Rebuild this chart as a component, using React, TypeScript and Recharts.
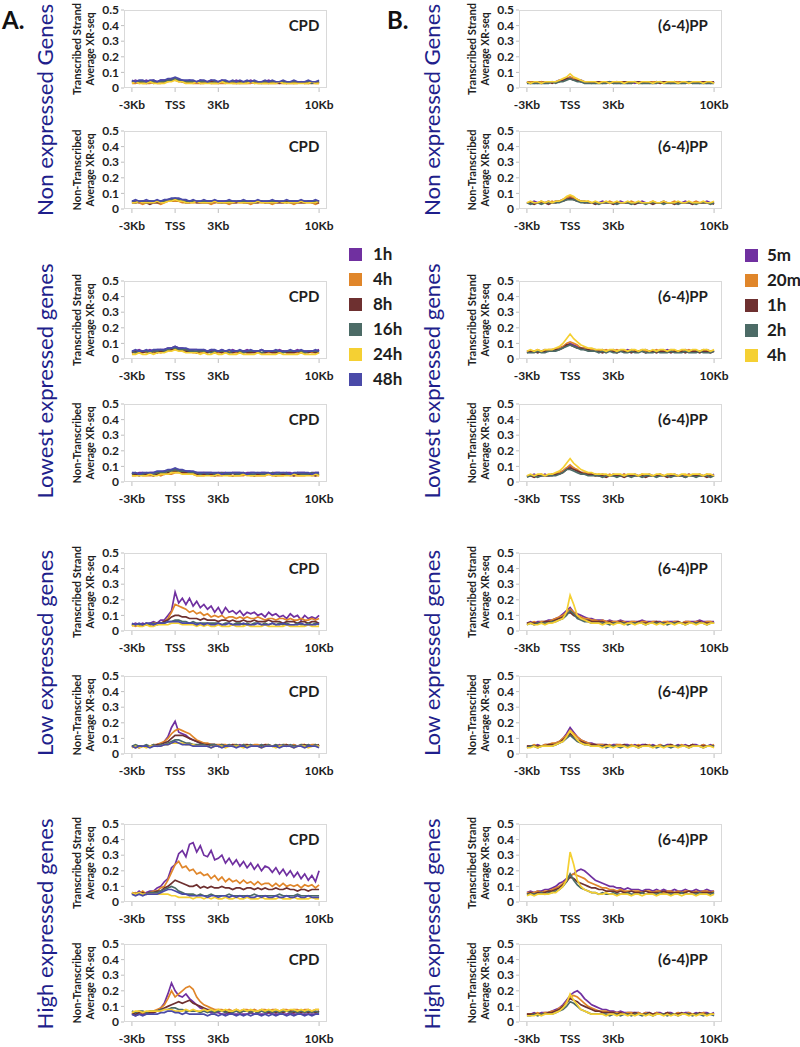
import React from "react"
import { LineChart, Line, XAxis, YAxis } from "recharts"

// positions along the gene (kb), TSS = 0
const KB = [
  -3, -2.75, -2.5, -2.25, -2, -1.75, -1.5, -1.25, -1, -0.75,
  -0.5, -0.25, 0, 0.25, 0.5, 0.75, 1, 1.25, 1.5, 1.75,
  2, 2.25, 2.5, 2.75, 3, 3.25, 3.5, 3.75, 4, 4.25,
  4.5, 4.75, 5, 5.25, 5.5, 5.75, 6, 6.25, 6.5, 6.75,
  7, 7.25, 7.5, 7.75, 8, 8.25, 8.5, 8.75, 9, 9.25,
  9.5, 9.75, 10,
]
const X_TICKS = [-3, 0, 3, 10]
const X_LABELS = ["-3Kb", "TSS", "3Kb", "10Kb"]
const X_LABELS_ALT = ["3Kb", "TSS", "3Kb", "10Kb"]
const Y_TICKS = [0, 0.1, 0.2, 0.3, 0.4, 0.5]

const CPD_TIMES = ["1h", "4h", "8h", "16h", "24h", "48h"]
const PP_TIMES = ["5m", "20m", "1h", "2h", "4h"]
const CPD_COLORS = ["#7030a0", "#e0862a", "#6e3030", "#4c6b66", "#f5d033", "#4a4aa8"]
const PP_COLORS = ["#7030a0", "#e0862a", "#6e3030", "#4c6b66", "#f5d033"]

const GROUPS = ["Non expressed Genes", "Lowest expressed genes", "Low expressed genes", "High expressed genes"]
const GROUP_LEN = [212, 235, 206, 211]

// Average XR-seq, in hundredths
const CPD_NON_TS = [
  [4,5,4,4,5,4,5,4,5,5, 5,6,6,5,5,4,5,4,4,5, 4,4,5,4,4,5,4,4,4,5, 4,4,4,5,4,4,4,4,5,4, 4,4,4,3,4,4,4,4,3,4, 4,4,4],
  [3,3,4,3,3,3,4,3,3,4, 4,5,5,4,4,3,4,3,3,3, 3,4,3,3,3,3,3,4,3,3, 3,3,3,3,4,3,3,3,3,3, 3,3,3,3,3,3,3,4,3,3, 3,3,3],
  [4,4,3,4,4,4,3,4,4,4, 5,5,5,5,4,4,4,4,4,3, 4,4,4,4,3,4,4,4,4,3, 4,4,4,4,3,4,4,4,3,4, 4,3,4,4,4,3,4,4,4,3, 4,4,3],
  [4,4,4,4,3,4,4,4,4,4, 5,5,6,5,4,4,4,4,4,4, 4,4,3,4,4,4,4,4,4,4, 3,4,4,4,4,4,3,4,4,4, 4,4,4,3,4,4,4,4,4,4, 3,4,4],
  [3,4,3,3,3,4,3,3,3,3, 4,4,5,4,4,3,3,3,4,3, 3,3,3,3,3,4,3,3,3,3, 3,3,3,4,3,3,3,3,3,3, 3,4,3,3,3,3,3,3,3,3, 4,3,3],
  [5,4,5,5,4,5,5,4,5,5, 6,6,7,6,5,5,5,5,4,5, 5,4,5,5,4,5,5,4,5,4, 5,4,5,4,5,4,4,5,4,5, 4,4,5,4,4,5,4,4,4,5, 4,4,5],
]
const CPD_NON_NTS = [
  [5,5,4,5,5,5,4,5,5,5, 6,6,6,6,5,5,5,5,5,4, 5,5,5,4,5,5,5,5,4,5, 5,5,4,5,5,5,5,4,5,5, 5,5,4,5,5,5,5,5,4,5, 5,5,5],
  [4,4,4,3,4,4,4,4,3,4, 5,5,5,5,4,4,4,4,4,4, 4,4,3,4,4,4,4,3,4,4, 4,4,4,3,4,4,4,4,4,3, 4,4,4,4,4,3,4,4,4,4, 4,3,4],
  [4,4,5,4,4,3,4,4,4,5, 5,5,6,5,5,4,4,5,4,4, 4,4,4,5,4,4,4,4,4,4, 5,4,4,4,4,4,5,4,4,4, 4,4,4,5,4,4,4,4,4,5, 4,4,4],
  [5,4,5,5,4,5,5,5,5,5, 6,6,7,6,5,5,5,5,5,5, 5,5,5,5,5,4,5,5,5,5, 5,5,5,5,4,5,5,5,5,5, 5,5,5,4,5,5,5,5,5,5, 5,5,5],
  [4,4,5,4,4,4,4,5,4,4, 5,5,6,5,5,4,4,4,5,4, 4,4,4,5,4,4,4,4,4,5, 4,4,4,4,4,5,4,4,4,4, 4,5,4,4,4,4,4,5,4,4, 4,4,5],
  [5,6,5,5,6,5,5,6,5,6, 6,7,7,7,6,6,5,6,5,5, 6,5,5,6,5,5,5,6,5,5, 5,6,5,5,5,6,5,5,5,6, 5,5,5,6,5,5,5,6,5,5, 5,6,5],
]
const CPD_LOWEST_TS = [
  [5,5,6,5,5,6,5,6,6,6, 7,7,8,7,7,6,6,6,6,5, 6,5,6,5,5,6,5,5,6,5, 5,5,6,5,5,5,6,5,5,5, 5,6,5,5,5,5,6,5,5,5, 5,5,6],
  [4,4,4,5,4,4,4,5,4,5, 5,6,6,6,5,5,5,4,4,4, 4,5,4,4,4,4,4,5,4,4, 4,4,4,4,5,4,4,4,4,4, 4,4,5,4,4,4,4,4,4,5, 4,4,4],
  [4,5,4,4,5,4,5,4,5,5, 5,6,7,6,5,5,5,5,4,5, 5,4,5,4,5,4,5,4,4,5, 4,5,4,4,4,5,4,4,5,4, 4,4,5,4,4,4,5,4,4,4, 5,4,4],
  [5,4,5,5,5,4,5,5,6,5, 6,7,7,6,6,6,5,5,5,5, 5,5,4,5,5,5,5,4,5,5, 5,4,5,5,5,5,4,5,5,5, 5,5,4,5,5,5,5,5,4,5, 5,5,5],
  [3,3,4,3,3,4,3,4,4,4, 5,5,6,5,5,4,4,4,4,3, 4,3,3,4,3,3,4,3,3,3, 4,3,3,3,3,4,3,3,3,3, 3,4,3,3,3,3,3,4,3,3, 3,3,4],
  [5,6,5,5,6,5,6,6,6,6, 7,7,8,7,7,7,6,6,6,6, 6,5,6,6,5,6,5,6,5,5, 6,5,5,6,5,5,6,5,5,5, 6,5,5,5,6,5,5,6,5,5, 5,6,5],
]
const CPD_LOWEST_NTS = [
  [6,5,6,6,5,6,6,6,6,7, 7,8,8,8,7,7,7,6,6,6, 6,6,6,5,6,6,6,5,6,6, 6,5,6,6,6,5,6,6,5,6, 6,6,5,6,6,5,6,6,6,5, 6,6,6],
  [4,4,5,4,4,4,4,5,4,5, 5,5,6,6,6,5,5,5,4,4, 4,5,4,4,4,4,5,4,4,4, 4,4,5,4,4,4,4,4,5,4, 4,4,4,5,4,4,4,4,4,5, 4,4,4],
  [5,5,4,5,5,5,4,5,6,5, 6,7,7,7,6,6,6,6,5,5, 5,5,5,4,5,5,5,5,4,5, 5,5,5,5,4,5,5,5,5,5, 4,5,5,5,5,4,5,5,5,5, 5,4,5],
  [5,6,5,5,6,5,5,6,6,6, 7,7,8,7,7,7,6,6,6,5, 6,5,6,5,5,6,5,5,6,5, 5,6,5,5,5,6,5,5,5,6, 5,5,6,5,5,5,6,5,5,5, 6,5,5],
  [4,4,4,4,4,5,4,4,5,5, 5,6,6,6,5,5,5,5,4,4, 4,4,4,4,5,4,4,4,4,4, 4,5,4,4,4,4,4,4,5,4, 4,4,4,4,4,5,4,4,4,4, 4,5,4],
  [6,6,5,6,6,6,6,7,7,7, 8,8,9,8,8,7,7,7,6,6, 6,6,6,6,6,5,6,6,6,6, 6,6,5,6,6,6,6,6,6,5, 6,6,6,6,5,6,6,6,6,6, 5,6,6],
]
const CPD_LOW_TS = [
  [4,5,4,5,4,5,6,5,7,7, 10,13,25,18,21,17,21,16,19,15, 17,14,16,12,15,11,15,12,13,11, 13,10,12,11,12,10,11,9,12,10, 11,9,10,8,11,9,10,7,10,8, 9,8,10],
  [4,3,4,4,4,4,5,5,5,6, 8,12,17,16,15,14,12,13,11,12, 10,11,9,10,9,10,8,9,9,8, 9,8,9,8,8,9,8,7,8,8, 7,8,8,7,8,7,7,8,7,7, 8,7,8],
  [4,4,4,4,5,4,4,5,5,6, 7,9,10,10,9,9,8,8,8,7, 8,7,7,7,6,7,7,6,7,6, 6,7,6,6,7,6,6,6,7,6, 6,6,5,6,6,6,5,6,6,5, 6,6,5],
  [4,4,4,4,4,4,5,4,5,5, 6,6,7,7,6,6,5,6,5,5, 5,5,5,5,5,4,5,5,4,5, 5,4,5,4,5,5,4,5,4,5, 4,5,4,5,4,4,5,4,4,5, 4,5,4],
  [3,4,3,3,4,3,3,4,4,4, 4,5,5,5,4,4,4,4,3,4, 3,4,3,3,4,3,3,3,4,3, 3,3,4,3,3,3,3,4,3,3, 3,3,3,4,3,3,3,3,3,4, 3,3,3],
  [5,4,5,4,5,5,4,5,5,5, 6,6,6,6,5,5,5,5,4,5, 4,5,4,4,5,4,4,5,4,4, 4,5,4,4,4,5,4,4,4,5, 4,4,5,4,4,4,4,5,4,4, 4,4,5],
]
const CPD_LOW_NTS = [
  [5,5,4,5,5,5,5,6,6,8, 11,17,21,14,13,12,10,9,8,7, 7,6,6,6,5,6,5,6,5,5, 6,5,5,6,5,5,6,5,5,5, 5,6,5,5,5,6,5,5,5,6, 5,5,5],
  [5,4,5,5,5,5,6,6,7,8, 10,13,15,16,15,14,13,11,9,8, 7,7,6,6,6,6,6,5,6,6, 5,6,6,5,6,6,5,6,6,5, 6,5,6,6,5,6,5,6,6,5, 6,6,5],
  [5,5,5,5,5,5,5,6,6,7, 8,10,12,12,12,11,10,9,8,7, 6,6,6,6,5,6,5,5,6,5, 5,5,6,5,5,5,5,6,5,5, 5,5,5,6,5,5,5,5,6,5, 5,5,6],
  [5,6,5,5,6,5,6,5,6,6, 7,8,9,9,8,7,7,6,6,6, 6,5,6,6,5,6,5,6,5,6, 5,6,5,6,5,5,6,5,6,5, 6,5,6,5,6,5,5,6,5,6, 5,6,5],
  [4,5,4,5,4,5,5,5,5,6, 6,7,7,7,7,6,6,6,5,5, 5,5,4,5,5,5,4,5,5,5, 5,4,5,5,5,5,4,5,5,5, 4,5,5,5,5,4,5,5,5,4, 5,5,5],
  [5,4,5,5,5,4,5,5,5,6, 6,7,8,7,6,6,6,5,5,5, 5,5,4,5,5,4,5,5,5,4, 5,5,4,5,5,5,4,5,5,5, 5,4,5,5,5,4,5,5,4,5, 5,5,4],
]
const CPD_HIGH_TS = [
  [6,5,7,5,6,7,7,9,10,13, 15,22,24,31,33,29,37,38,32,36, 30,29,33,27,28,30,25,28,24,27, 23,26,22,25,21,24,20,23,22,19, 22,18,21,17,20,16,19,15,18,14, 17,13,20],
  [5,6,5,7,5,6,7,7,9,10, 14,19,24,26,22,23,20,21,18,19, 17,18,15,17,14,16,13,15,13,14, 12,14,12,13,11,13,11,12,12,10, 12,10,12,10,11,10,11,9,11,10, 11,9,11],
  [6,5,5,6,5,6,6,7,7,9, 10,12,14,13,12,11,10,10,11,9, 10,9,10,9,9,10,9,9,8,9, 9,8,9,9,8,9,8,9,8,8, 9,8,8,9,8,8,7,8,8,7, 8,8,8],
  [5,5,6,5,5,6,6,6,7,8, 9,10,9,7,6,5,5,5,4,5, 4,4,5,4,4,4,4,5,4,4, 4,4,4,4,5,4,4,4,4,4, 4,5,4,4,4,4,5,4,4,4, 4,4,4],
  [6,5,6,5,5,5,5,5,5,5, 5,4,4,3,3,3,3,2,3,3, 2,3,2,3,2,2,3,2,2,3, 2,2,3,2,2,2,3,2,2,2, 2,3,2,2,2,3,2,2,2,2, 3,2,2],
  [5,4,5,4,5,5,5,5,6,7, 8,8,7,6,5,5,4,4,4,4, 4,3,4,4,3,4,4,3,4,3, 4,3,4,3,3,4,3,4,3,3, 4,3,3,4,3,3,4,3,3,4, 3,3,3],
]
const CPD_HIGH_NTS = [
  [5,4,5,5,5,6,6,7,9,12, 18,25,20,17,16,18,15,13,11,9, 8,7,6,6,6,5,5,6,5,5, 5,5,5,6,5,5,5,5,6,5, 5,5,5,5,6,5,5,5,5,5, 5,5,5],
  [5,6,6,6,6,6,7,8,9,11, 15,20,16,18,20,22,23,21,16,13, 11,10,9,8,8,8,7,8,7,8, 7,8,8,7,8,7,8,8,7,8, 8,7,8,8,7,8,8,7,8,8, 7,8,8],
  [6,5,6,6,6,6,6,7,8,9, 10,11,12,13,12,13,14,12,11,10, 9,8,8,7,7,7,7,6,7,7, 6,7,7,6,7,6,7,7,6,7, 6,7,6,7,7,6,7,6,7,6, 7,6,7],
  [7,6,7,7,6,7,7,7,8,8, 8,9,9,8,8,7,7,7,7,6, 7,6,7,6,7,7,6,7,6,7, 6,7,7,6,7,6,7,6,7,6, 7,6,7,7,6,7,6,7,6,7, 6,7,6],
  [6,7,7,6,7,7,7,7,7,8, 8,8,7,7,7,8,7,8,7,7, 8,7,8,7,8,7,8,7,7,8, 7,8,7,8,7,7,8,7,8,7, 8,7,8,7,8,8,7,8,7,8, 7,8,8],
  [5,4,5,4,5,5,5,5,6,6, 7,7,6,6,5,6,5,5,5,5, 5,4,5,5,4,5,4,5,5,4, 5,4,5,4,5,5,4,5,4,5, 4,5,5,4,5,4,5,5,4,5, 4,5,5],
]

const PP_NON_TS = [
  [4,4,3,4,4,4,4,4,4,5, 5,6,7,6,5,5,4,4,4,4, 4,4,4,3,4,4,4,4,4,4, 3,4,4,4,4,4,4,3,4,4, 4,4,4,4,3,4,4,4,4,4, 3,4,4],
  [3,4,4,3,4,3,4,4,4,4, 5,6,7,6,5,4,4,4,4,3, 4,4,3,4,4,3,4,4,3,4, 4,3,4,4,3,4,4,3,4,4, 3,4,4,3,4,4,3,4,4,3, 4,4,3],
  [4,3,4,4,3,4,4,3,4,4, 5,6,6,5,5,4,4,4,3,4, 4,3,4,4,3,4,3,4,4,3, 4,4,3,4,4,3,4,3,4,4, 3,4,3,4,4,3,4,4,3,4, 4,3,4],
  [3,3,3,3,3,3,3,4,3,4, 4,5,6,5,4,4,3,3,3,3, 3,3,3,4,3,3,3,3,3,3, 4,3,3,3,3,3,3,4,3,3, 3,3,3,3,3,4,3,3,3,3, 3,3,3],
  [4,3,4,4,3,4,4,4,4,5, 6,7,9,7,6,5,4,4,4,4, 3,4,4,3,4,4,4,3,4,4, 4,3,4,4,4,3,4,4,3,4, 4,4,3,4,4,3,4,4,4,3, 4,4,3],
]
const PP_NON_NTS = [
  [4,4,5,4,4,4,5,4,5,5, 6,7,8,7,6,5,5,4,4,4, 4,5,4,4,4,4,5,4,4,4, 4,4,5,4,4,4,4,4,5,4, 4,4,4,4,5,4,4,4,4,4, 5,4,4],
  [4,4,4,4,5,4,4,5,4,5, 6,7,8,7,6,5,4,5,4,4, 4,4,4,5,4,4,4,4,4,5, 4,4,4,4,4,5,4,4,4,4, 4,5,4,4,4,4,4,5,4,4, 4,4,4],
  [4,4,3,4,4,4,3,4,4,5, 5,6,7,6,5,5,4,4,4,3, 4,4,4,4,3,4,4,4,4,4, 3,4,4,4,4,3,4,4,4,4, 4,3,4,4,4,4,3,4,4,4, 4,4,3],
  [4,3,4,4,3,4,4,4,4,4, 5,6,6,6,5,4,4,4,4,4, 3,4,4,4,4,3,4,4,4,3, 4,4,4,3,4,4,4,4,3,4, 4,4,3,4,4,4,4,3,4,4, 4,3,4],
  [4,5,4,4,5,4,5,4,5,5, 6,8,9,8,6,5,5,5,4,5, 4,4,5,4,4,5,4,4,5,4, 4,5,4,4,4,5,4,4,5,4, 4,4,5,4,4,5,4,4,4,5, 4,4,5],
]
const PP_LOWEST_TS = [
  [5,5,5,5,5,6,5,6,6,7, 8,9,10,9,8,7,7,6,6,6, 5,6,5,5,6,5,5,5,6,5, 5,5,5,6,5,5,5,5,5,6, 5,5,5,5,6,5,5,5,5,5, 6,5,5],
  [5,5,5,6,5,5,6,6,6,7, 8,10,11,10,9,7,7,6,6,5, 6,5,6,5,5,6,5,5,5,6, 5,5,6,5,5,5,6,5,5,5, 6,5,5,5,5,6,5,5,5,6, 5,5,5],
  [4,5,5,4,5,5,5,5,6,6, 7,9,9,8,7,7,6,6,5,5, 5,4,5,5,5,4,5,5,5,4, 5,5,5,4,5,5,4,5,5,5, 4,5,5,5,4,5,5,5,4,5, 5,4,5],
  [4,4,4,5,4,4,5,5,5,6, 7,8,9,8,7,6,6,5,5,5, 4,5,4,5,4,4,5,4,4,5, 4,4,5,4,4,4,5,4,4,4, 5,4,4,4,5,4,4,4,5,4, 4,4,5],
  [5,6,5,6,5,6,6,6,7,8, 10,13,16,13,11,9,8,7,7,6, 6,6,5,6,6,5,6,6,5,6, 6,5,6,6,5,6,5,6,6,5, 6,6,5,6,6,5,6,6,5,6, 6,5,6],
]
const PP_LOWEST_NTS = [
  [4,4,5,4,4,5,4,5,5,6, 7,9,10,9,7,6,6,5,5,5, 4,5,4,4,5,4,4,5,4,4, 5,4,4,4,5,4,4,5,4,4, 4,5,4,4,4,5,4,4,5,4, 4,4,5],
  [4,4,4,4,5,4,4,5,5,6, 7,9,11,9,8,6,6,5,5,4, 5,4,4,5,4,4,4,5,4,4, 4,4,5,4,4,4,4,5,4,4, 5,4,4,4,4,5,4,4,4,4, 5,4,4],
  [4,4,3,4,4,4,4,4,5,5, 6,8,9,8,7,6,5,5,5,4, 4,4,3,4,4,4,4,3,4,4, 4,4,4,3,4,4,4,4,4,3, 4,4,4,4,3,4,4,4,4,4, 3,4,4],
  [3,4,4,3,4,4,4,4,4,5, 6,8,8,7,6,5,5,4,4,4, 4,3,4,4,4,3,4,4,4,3, 4,4,3,4,4,4,3,4,4,4, 3,4,4,4,3,4,4,3,4,4, 4,3,4],
  [4,5,4,5,5,4,5,5,6,7, 9,12,15,12,10,8,7,6,6,5, 5,5,5,4,5,5,5,4,5,5, 5,4,5,5,5,4,5,5,4,5, 5,5,4,5,5,4,5,5,5,4, 5,5,4],
]
const PP_LOW_TS = [
  [5,6,5,6,6,6,7,7,8,9, 11,13,15,12,11,10,9,8,8,7, 7,7,6,7,6,6,7,6,6,6, 6,6,7,6,6,6,6,6,5,6, 6,6,6,5,6,6,6,6,7,6, 6,6,6],
  [5,5,6,5,6,6,6,7,8,9, 10,12,14,12,10,9,8,8,7,7, 6,7,6,6,6,6,6,6,5,6, 6,5,6,6,5,6,6,5,6,6, 5,6,6,5,6,6,5,6,6,5, 6,6,5],
  [5,5,5,5,5,6,6,6,7,8, 9,11,12,10,9,8,7,7,6,6, 6,6,5,6,5,5,6,5,5,5, 5,6,5,5,5,5,6,5,5,5, 5,5,6,5,5,5,5,5,6,5, 5,5,5],
  [4,5,4,5,5,5,5,6,6,7, 8,10,13,11,8,7,6,6,5,5, 5,5,5,4,5,5,5,5,4,5, 5,5,5,4,5,5,5,5,5,4, 5,5,5,5,4,5,5,5,5,5, 4,5,5],
  [4,5,4,4,5,4,5,5,6,7, 8,12,23,17,10,8,7,6,5,5, 5,4,5,5,4,5,5,4,5,5, 4,5,5,4,5,5,4,5,4,5, 5,4,5,5,4,5,5,4,5,5, 4,5,5],
]
const PP_LOW_NTS = [
  [5,5,5,6,5,6,6,6,7,8, 10,13,17,14,11,9,8,7,7,6, 6,6,6,5,6,6,5,6,6,5, 6,5,6,6,5,6,5,6,5,6, 6,5,6,5,6,5,6,6,5,6, 5,6,5],
  [5,5,6,5,5,6,6,7,7,8, 10,12,15,13,11,9,8,7,6,6, 6,6,5,6,5,6,6,5,5,6, 5,6,5,5,6,5,5,6,5,5, 6,5,5,6,5,5,6,5,5,6, 5,5,6],
  [5,5,5,5,5,5,6,6,6,7, 9,11,13,11,9,8,7,6,6,6, 5,5,6,5,5,5,5,6,5,5, 5,5,5,6,5,5,5,5,5,5, 6,5,5,5,5,5,6,5,5,5, 5,5,5],
  [4,5,5,4,5,5,5,5,6,7, 8,10,12,10,8,7,6,6,5,5, 5,5,4,5,5,5,4,5,5,5, 5,4,5,5,5,5,4,5,5,5, 4,5,5,5,5,4,5,5,5,4, 5,5,5],
  [4,4,5,4,5,5,5,5,6,7, 8,11,15,12,9,7,6,6,5,5, 5,4,5,5,4,5,5,5,4,5, 5,4,5,5,5,4,5,5,4,5, 5,5,4,5,5,4,5,5,5,4, 5,5,4],
]
const PP_HIGH_TS = [
  [6,7,6,7,7,8,8,9,10,12, 13,15,17,18,20,21,20,18,16,14, 13,12,11,10,10,9,9,8,9,8, 8,8,7,8,8,7,8,7,8,7, 7,8,7,7,8,7,7,8,7,7, 8,7,7],
  [6,6,6,7,6,7,7,8,9,10, 12,14,17,18,17,16,15,13,12,11, 10,9,9,8,8,7,8,7,7,7, 7,7,6,7,7,6,7,7,6,7, 7,6,7,6,7,7,6,7,6,7, 7,6,7],
  [5,6,5,6,6,6,7,7,8,9, 11,13,16,15,13,12,11,10,9,9, 8,8,7,7,7,6,7,6,6,7, 6,6,6,7,6,6,6,6,7,6, 6,6,6,6,6,7,6,6,6,6, 6,6,6],
  [5,5,5,5,6,5,6,6,7,8, 10,13,18,14,11,9,8,7,6,6, 5,6,5,5,6,5,5,5,6,5, 5,5,6,5,5,5,5,6,5,5, 5,5,5,6,5,5,5,5,6,5, 5,5,6],
  [4,5,4,5,5,5,5,6,6,8, 10,14,32,24,14,10,8,7,6,6, 5,5,6,5,5,4,5,5,5,4, 5,5,4,5,5,5,4,5,5,5, 4,5,5,4,5,5,5,4,5,5, 5,4,5],
]
const PP_HIGH_NTS = [
  [5,5,6,5,6,6,6,7,8,9, 11,14,17,19,20,18,15,13,11,10, 9,8,8,7,7,6,7,6,6,6, 6,6,5,6,6,5,6,6,5,6, 6,5,6,5,6,6,5,6,5,6, 6,5,6],
  [5,5,5,6,5,6,6,7,7,9, 10,13,16,17,16,14,12,10,9,8, 7,7,7,6,6,6,6,5,6,6, 5,6,5,6,5,5,6,5,5,6, 5,5,6,5,5,6,5,5,5,6, 5,5,5],
  [5,5,5,5,5,5,6,6,7,8, 10,12,15,14,13,11,10,9,8,7, 7,6,6,6,6,5,6,5,5,5, 6,5,5,5,6,5,5,5,5,6, 5,5,5,6,5,5,5,5,6,5, 5,5,5],
  [4,4,5,4,5,5,5,5,6,7, 8,10,13,12,10,8,7,6,5,5, 5,5,5,4,5,5,4,5,5,4, 5,5,4,5,5,4,5,5,5,4, 5,5,4,5,5,5,4,5,5,4, 5,5,4],
  [4,4,4,5,4,5,5,5,6,7, 9,12,18,14,11,8,7,6,5,5, 5,5,4,5,5,4,5,5,4,5, 4,5,5,4,5,4,5,5,4,5, 4,5,4,5,5,4,5,4,5,5, 4,5,5],
]

const FONT = "Lato, 'Open Sans', sans-serif"
const INK = "#1e1e1e"
const NAVY = "#1f1f8c"
const FRAME = "#d9d9d9"

const COL_X = [124, 519]
const TS_TOPS = [10, 281, 553, 824]
const NTS_TOPS = [131, 404, 676, 944]
const BOX_W = 203
const BOX_H = 78
const PAD_TOP = 12

const PANELS = [
  { col: 0, top: TS_TOPS[0], series: CPD_NON_TS, ts: true },
  { col: 0, top: NTS_TOPS[0], series: CPD_NON_NTS, ts: false },
  { col: 0, top: TS_TOPS[1], series: CPD_LOWEST_TS, ts: true },
  { col: 0, top: NTS_TOPS[1], series: CPD_LOWEST_NTS, ts: false },
  { col: 0, top: TS_TOPS[2], series: CPD_LOW_TS, ts: true },
  { col: 0, top: NTS_TOPS[2], series: CPD_LOW_NTS, ts: false },
  { col: 0, top: TS_TOPS[3], series: CPD_HIGH_TS, ts: true },
  { col: 0, top: NTS_TOPS[3], series: CPD_HIGH_NTS, ts: false },
  { col: 1, top: TS_TOPS[0], series: PP_NON_TS, ts: true },
  { col: 1, top: NTS_TOPS[0], series: PP_NON_NTS, ts: false },
  { col: 1, top: TS_TOPS[1], series: PP_LOWEST_TS, ts: true },
  { col: 1, top: NTS_TOPS[1], series: PP_LOWEST_NTS, ts: false },
  { col: 1, top: TS_TOPS[2], series: PP_LOW_TS, ts: true },
  { col: 1, top: NTS_TOPS[2], series: PP_LOW_NTS, ts: false },
  { col: 1, top: TS_TOPS[3], series: PP_HIGH_TS, ts: true, alt: true },
  { col: 1, top: NTS_TOPS[3], series: PP_HIGH_NTS, ts: false },
]

function buildRows(series: number[][]) {
  return KB.map((x, i) => {
    const row: Record<string, number> = { x }
    series.forEach((s, k) => {
      row["s" + k] = s[i] / 100
    })
    return row
  })
}

const tickStyle = { fontSize: 12, fontWeight: 700, fill: INK, fontFamily: FONT }

function Panel({ left, top, series, colors, xLabels }: any) {
  const data = buildRows(series)
  const h = PAD_TOP + BOX_H + 26
  return (
    <div style={{ position: "absolute", left: left - 40, top: top - PAD_TOP, width: 253, height: h }}>
      <LineChart width={253} height={h} data={data} margin={{ top: PAD_TOP, right: 10, bottom: 0, left: 0 }}>
        <XAxis
          dataKey="x"
          type="number"
          domain={[-3.55, 10.55]}
          ticks={X_TICKS}
          interval={0}
          tickFormatter={(v) => xLabels[X_TICKS.indexOf(v)]}
          height={26}
          axisLine={false}
          tickLine={{ stroke: "#bfbfbf" }}
          tickSize={4}
          tickMargin={8}
          tick={tickStyle}
        />
        <YAxis
          type="number"
          domain={[0, 0.5]}
          ticks={Y_TICKS}
          interval={0}
          width={40}
          tickFormatter={(v) => String(v)}
          axisLine={false}
          tickLine={{ stroke: "#bfbfbf" }}
          tickSize={3}
          tickMargin={2}
          tick={tickStyle}
        />
        {series.map((_: number[], k: number) => (
          <Line
            key={k}
            type="linear"
            dataKey={"s" + k}
            stroke={colors[k]}
            strokeWidth={1.7}
            dot={false}
            isAnimationActive={false}
          />
        ))}
      </LineChart>
      <div
        style={{
          position: "absolute",
          left: 40,
          top: PAD_TOP,
          width: BOX_W,
          height: BOX_H,
          border: `1px solid ${FRAME}`,
          boxSizing: "border-box",
          pointerEvents: "none",
        }}
      />
    </div>
  )
}

function Texts() {
  return (
    <svg width={800} height={1047} style={{ position: "absolute", left: 0, top: 0, pointerEvents: "none" }}>
      <text x={2} y={29} fontSize={24} fontWeight={700} fontFamily={FONT} fill="#111">A.</text>
      <text x={387} y={29} fontSize={24} fontWeight={700} fontFamily={FONT} fill="#111">B.</text>

      {GROUPS.map((g, i) =>
        [53, 440].map((x) => (
          <text
            key={g + x}
            transform={`translate(${x},${TS_TOPS[i] + 100}) rotate(-90)`}
            textAnchor="middle"
            fontSize={22}
            fontFamily={FONT}
            fill={NAVY}
            textLength={GROUP_LEN[i]}
            lengthAdjust="spacingAndGlyphs"
          >
            {g}
          </text>
        ))
      )}

      {PANELS.map((p, i) => {
        const bx = COL_X[p.col]
        const cy = p.top + BOX_H / 2
        return (
          <g key={i}>
            <text
              transform={`translate(${bx - 43},${cy}) rotate(-90)`}
              textAnchor="middle"
              fontSize={11}
              fontWeight={700}
              fontFamily={FONT}
              fill={INK}
              textLength={p.ts ? 92 : 81}
              lengthAdjust="spacingAndGlyphs"
            >
              {p.ts ? "Transcribed Strand" : "Non-Transcribed"}
            </text>
            <text
              transform={`translate(${bx - 30},${cy}) rotate(-90)`}
              textAnchor="middle"
              fontSize={11}
              fontWeight={700}
              fontFamily={FONT}
              fill={INK}
              textLength={73}
              lengthAdjust="spacingAndGlyphs"
            >
              Average XR-seq
            </text>
            <text
              x={p.col === 0 ? bx + 180 : bx + 164}
              y={p.top + 21}
              textAnchor="middle"
              fontSize={15}
              fontWeight={700}
              fontFamily={FONT}
              fill={INK}
            >
              {p.col === 0 ? "CPD" : "(6-4)PP"}
            </text>
          </g>
        )
      })}

      {CPD_TIMES.map((t, k) => (
        <g key={"l" + t}>
          <rect x={349} y={248 + k * 25} width={13} height={13} fill={CPD_COLORS[k]} />
          <text x={373} y={260 + k * 25} fontSize={17} fontWeight={700} fontFamily={FONT} fill={INK}>{t}</text>
        </g>
      ))}
      {PP_TIMES.map((t, k) => (
        <g key={"r" + t}>
          <rect x={745} y={249 + k * 25} width={13} height={13} fill={PP_COLORS[k]} />
          <text x={767} y={261 + k * 25} fontSize={17} fontWeight={700} fontFamily={FONT} fill={INK}>{t}</text>
        </g>
      ))}
    </svg>
  )
}

export default function App() {
  return (
    <div style={{ position: "absolute", left: 0, top: 0, width: 800, height: 1047, background: "#fff" }}>
      {PANELS.map((p, i) => (
        <Panel
          key={i}
          left={COL_X[p.col]}
          top={p.top}
          series={p.series}
          colors={p.col === 0 ? CPD_COLORS : PP_COLORS}
          xLabels={p.alt ? X_LABELS_ALT : X_LABELS}
        />
      ))}
      <Texts />
    </div>
  )
}
